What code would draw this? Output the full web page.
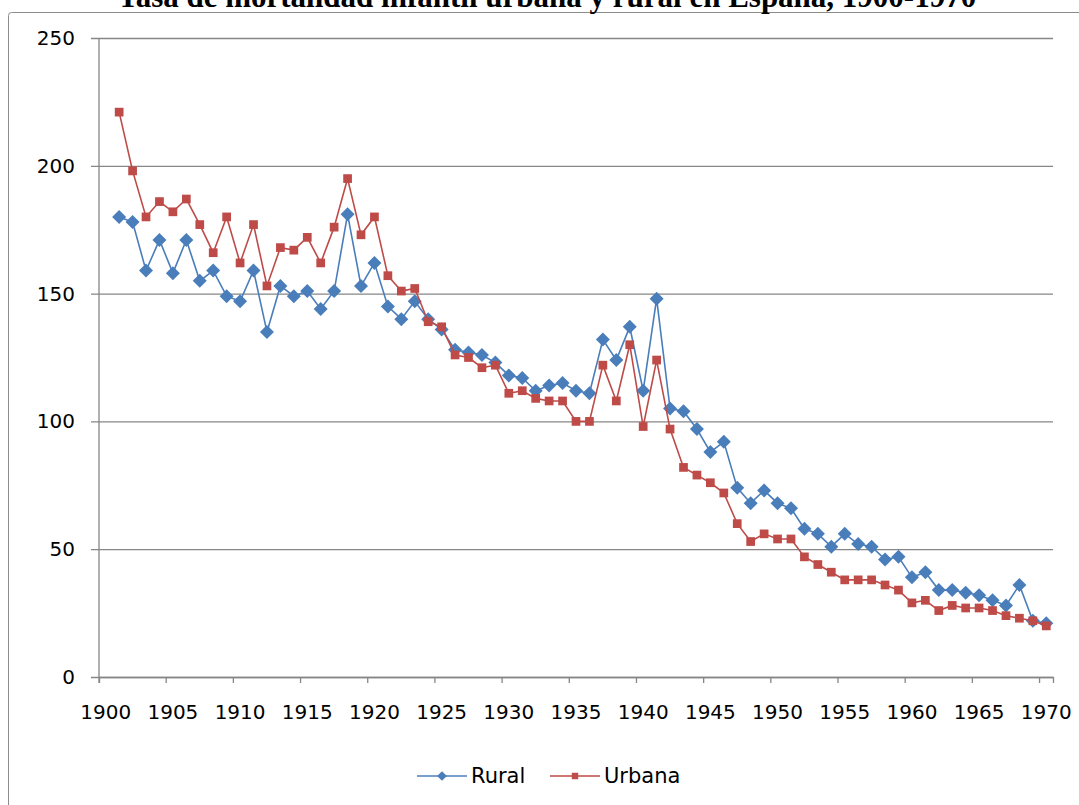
<!DOCTYPE html>
<html>
<head>
<meta charset="utf-8">
<script src="https://cdn.jsdelivr.net/npm/d3@7"></script>
<style>
  body { margin: 0; background: #fff; }
  svg { display: block; }
</style>
</head>
<body>
<div id="chart"></div>
<script>
const years = d3.range(1901, 1971)

const rural = [
  180, 178, 159, 171, 158, 171, 155, 159, 149, 147,
  159, 135, 153, 149, 151, 144, 151, 181, 153, 162,
  145, 140, 147, 140, 136, 128, 127, 126, 123, 118,
  117, 112, 114, 115, 112, 111, 132, 124, 137, 112,
  148, 105, 104, 97, 88, 92, 74, 68, 73, 68,
  66, 58, 56, 51, 56, 52, 51, 46, 47, 39,
  41, 34, 34, 33, 32, 30, 28, 36, 22, 21
]

const urbana = [
  221, 198, 180, 186, 182, 187, 177, 166, 180, 162,
  177, 153, 168, 167, 172, 162, 176, 195, 173, 180,
  157, 151, 152, 139, 137, 126, 125, 121, 122, 111,
  112, 109, 108, 108, 100, 100, 122, 108, 130, 98,
  124, 97, 82, 79, 76, 72, 60, 53, 56, 54,
  54, 47, 44, 41, 38, 38, 38, 36, 34, 29,
  30, 26, 28, 27, 27, 26, 24, 23, 22, 20
]

const yearLabels = d3.range(1900, 1971, 5)
const yTicks = [0, 50, 100, 150, 200, 250]

const title = 'Tasa de mortalidad infantil urbana y rural en España, 1900-1970'

const W = 1079
const H = 805
const margin = { top: 38, right: 26, bottom: 128, left: 99 }
const width = W - margin.left - margin.right
const height = H - margin.top - margin.bottom

const blue = '#4a7ebb'
const red = '#be4b48'
const gridColor = '#868686'

const root = d3
  .select('#chart')
  .append('svg')
  .attr('width', W)
  .attr('height', H)

// outer chart frame (runs off the page on the right and bottom)
root
  .append('rect')
  .attr('x', 8.5)
  .attr('y', 12.5)
  .attr('width', 1200)
  .attr('height', 1000)
  .attr('rx', 3)
  .attr('fill', 'none')
  .attr('stroke', '#8c8c8c')
  .attr('stroke-width', 1)

root
  .append('text')
  .attr('x', 547)
  .attr('y', 7)
  .attr('text-anchor', 'middle')
  .attr('font-family', 'Liberation Serif, Times New Roman, serif')
  .attr('font-weight', 'bold')
  .attr('font-size', 31)
  .text(title)

const svg = root
  .append('g')
  .attr('transform', `translate(${margin.left},${margin.top})`)

const xBand = d3
  .scaleBand()
  .domain(d3.range(1900, 1971))
  .range([0, width])

const xPos = d => xBand(d) + xBand.bandwidth() / 2

const yScale = d3
  .scaleLinear()
  .domain([0, 250])
  .range([height, 0])

// y axis with gridlines
const yAxis = d3
  .axisLeft(yScale)
  .tickValues(yTicks)
  .tickSize(-width)
  .tickPadding(24)

svg
  .append('g')
  .attr('class', 'y-axis')
  .call(yAxis)
  .call(g => g.select('.domain').remove())
  .call(g => g.selectAll('.tick line')
    .attr('x1', -8)
    .attr('stroke', gridColor)
    .attr('stroke-width', 1.3))
  .call(g => g.selectAll('.tick text')
    .attr('font-family', 'DejaVu Sans, sans-serif')
    .attr('font-size', 20)
    .attr('fill', '#000'))

svg
  .append('line')
  .attr('x1', 0)
  .attr('x2', 0)
  .attr('y1', 0)
  .attr('y2', height)
  .attr('stroke', gridColor)
  .attr('stroke-width', 1.3)

// x axis: ticks at every fifth category boundary
const xAxis = d3
  .axisBottom(xBand)
  .tickValues(yearLabels)
  .tickSizeOuter(0)
  .tickSize(6)
  .tickPadding(22)

svg
  .append('g')
  .attr('class', 'x-axis')
  .attr('transform', `translate(0,${height})`)
  .call(xAxis)
  .call(g => g.select('.domain').attr('stroke', gridColor).attr('stroke-width', 1.3))
  .call(g => g.selectAll('.tick line')
    .attr('stroke', gridColor)
    .attr('stroke-width', 1.3)
    .attr('transform', `translate(${-xBand.bandwidth() / 2},0)`))
  .call(g => g.selectAll('.tick text')
    .attr('font-family', 'DejaVu Sans, sans-serif')
    .attr('font-size', 20)
    .attr('fill', '#000'))

const line = d3
  .line()
  .x((d, i) => xPos(years[i]))
  .y(d => yScale(d))

const diamond = d3.symbol().type(d3.symbolDiamond2).size(125)
const square = d3.symbol().type(d3.symbolSquare).size(76)

function drawSeries(values, color, symbol, cls) {
  svg
    .append('path')
    .datum(values)
    .attr('fill', 'none')
    .attr('stroke', color)
    .attr('stroke-width', 1.6)
    .attr('d', line)

  svg
    .selectAll('.' + cls)
    .data(values)
    .enter()
    .append('path')
    .attr('class', cls)
    .attr('d', symbol)
    .attr('transform', (d, i) => `translate(${xPos(years[i])},${yScale(d)})`)
    .attr('fill', color)
}

drawSeries(rural, blue, diamond, 'rural')
drawSeries(urbana, red, square, 'urbana')

// legend
const legend = root.append('g').attr('transform', 'translate(417,776)')

const legendItems = [
  { name: 'Rural', color: blue, symbol: d3.symbol().type(d3.symbolDiamond2).size(60), x: 0 },
  { name: 'Urbana', color: red, symbol: d3.symbol().type(d3.symbolSquare).size(42), x: 133 }
]

const item = legend
  .selectAll('g')
  .data(legendItems)
  .enter()
  .append('g')
  .attr('transform', d => `translate(${d.x},0)`)

item
  .append('line')
  .attr('x1', 0)
  .attr('x2', 50)
  .attr('stroke', d => d.color)
  .attr('stroke-width', 1.6)

item
  .append('path')
  .attr('d', d => d.symbol())
  .attr('transform', 'translate(25,0)')
  .attr('fill', d => d.color)

item
  .append('text')
  .attr('x', 54)
  .attr('dy', '0.35em')
  .attr('font-family', 'DejaVu Sans, sans-serif')
  .attr('font-size', 21)
  .attr('fill', '#000')
  .text(d => d.name)
</script>
</body>
</html>
